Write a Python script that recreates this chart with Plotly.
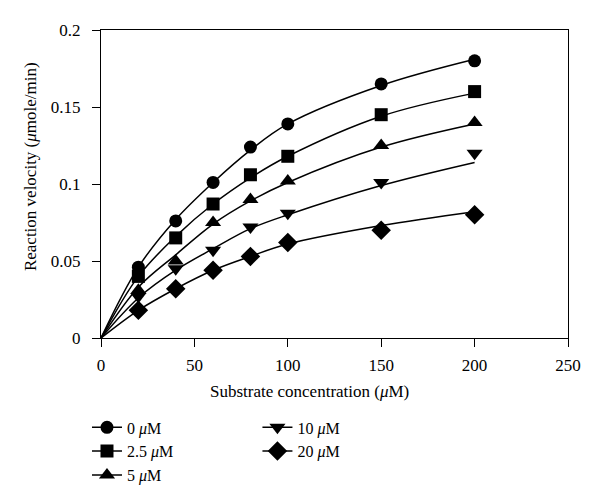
import plotly.graph_objects as go

# Data
substrate = [20, 40, 60, 80, 100, 150, 200]
v_0 = [0.046, 0.076, 0.101, 0.124, 0.139, 0.165, 0.180]
v_2_5 = [0.040, 0.065, 0.087, 0.106, 0.118, 0.145, 0.160]
v_5 = [0.031, 0.050, 0.075, 0.090, 0.102, 0.125, 0.140]
v_10 = [0.027, 0.045, 0.057, 0.072, 0.081, 0.101, 0.120]
v_20 = [0.018, 0.032, 0.044, 0.053, 0.062, 0.070, 0.080]

# Fitted curves
fit_x = [0, 20, 40, 60, 80, 100, 150, 200]
fit_0 = [0, 0.046, 0.077, 0.101, 0.122, 0.139, 0.164, 0.181]
fit_2_5 = [0, 0.040, 0.066, 0.087, 0.104, 0.118, 0.144, 0.159]
fit_5 = [0, 0.033, 0.054, 0.074, 0.089, 0.101, 0.124, 0.139]
fit_10 = [0, 0.026, 0.044, 0.058, 0.071, 0.080, 0.099, 0.114]
fit_20 = [0, 0.018, 0.032, 0.044, 0.053, 0.061, 0.073, 0.082]

labels = ["0 <i>μ</i>M", "2.5 <i>μ</i>M", "5 <i>μ</i>M", "10 <i>μ</i>M", "20 <i>μ</i>M"]
symbols = ["circle", "square", "triangle-up", "triangle-down", "diamond"]
sizes = [13, 13, 14, 14, 15]
series = [v_0, v_2_5, v_5, v_10, v_20]
fits = [fit_0, fit_2_5, fit_5, fit_10, fit_20]
legend_ids = ["legend", "legend", "legend", "legend2", "legend2"]

FONT = "Liberation Serif"
fig = go.Figure()
for i in range(5):
    fig.add_trace(go.Scatter(x=fit_x, y=fits[i], mode="lines", line=dict(color="black", width=1.5, shape="spline"),
                             showlegend=False, hoverinfo="skip"))
    fig.add_trace(go.Scatter(x=substrate, y=series[i], mode="markers",
                             marker=dict(symbol=symbols[i], size=sizes[i], color="black"),
                             showlegend=False))
for i in range(5):
    fig.add_trace(go.Scatter(x=[None], y=[None], mode="lines+markers", name=labels[i],
                             line=dict(color="black", width=1.5),
                             marker=dict(symbol=symbols[i], size=sizes[i], color="black"),
                             legend=legend_ids[i]))

axis_common = dict(showline=True, linecolor="black", linewidth=1.2, mirror=True, ticks="outside",
                   ticklen=8, tickcolor="black", showgrid=False, zeroline=False,
                   tickfont=dict(family=FONT, size=17, color="black"))
fig.update_xaxes(range=[0, 250], tickvals=[0, 50, 100, 150, 200, 250], ticklabelstandoff=3, **axis_common)
fig.update_yaxes(range=[0, 0.2], tickvals=[0, 0.05, 0.1, 0.15, 0.2],
                 ticktext=["0", "0.05", "0.1", "0.15", "0.2"], ticklabelstandoff=8, **axis_common)

legend_common = dict(font=dict(family=FONT, size=16, color="black"), bgcolor="rgba(0,0,0,0)",
                     tracegroupgap=0, itemwidth=30, yanchor="top", xanchor="left", orientation="v")
fig.update_layout(
    width=600, height=504,
    margin=dict(l=93, r=40, t=22, b=174, autoexpand=False),
    plot_bgcolor="white", paper_bgcolor="white",
    legend=dict(x=-0.03, y=-0.235, **legend_common),
    legend2=dict(x=0.335, y=-0.235, **legend_common),
    annotations=[
        dict(text="Substrate concentration (<i>μ</i>M)", x=0.4475, y=-0.175, xref="paper", yref="paper",
             showarrow=False, xanchor="center", yanchor="middle", font=dict(family=FONT, size=17, color="black")),
        dict(text="Reaction velocity (<i>μ</i>mole/min)", x=-0.152, y=0.555, xref="paper", yref="paper",
             showarrow=False, textangle=-90, xanchor="center", yanchor="middle",
             font=dict(family=FONT, size=17, color="black")),
    ],
)
fig.write_html("out.html")
